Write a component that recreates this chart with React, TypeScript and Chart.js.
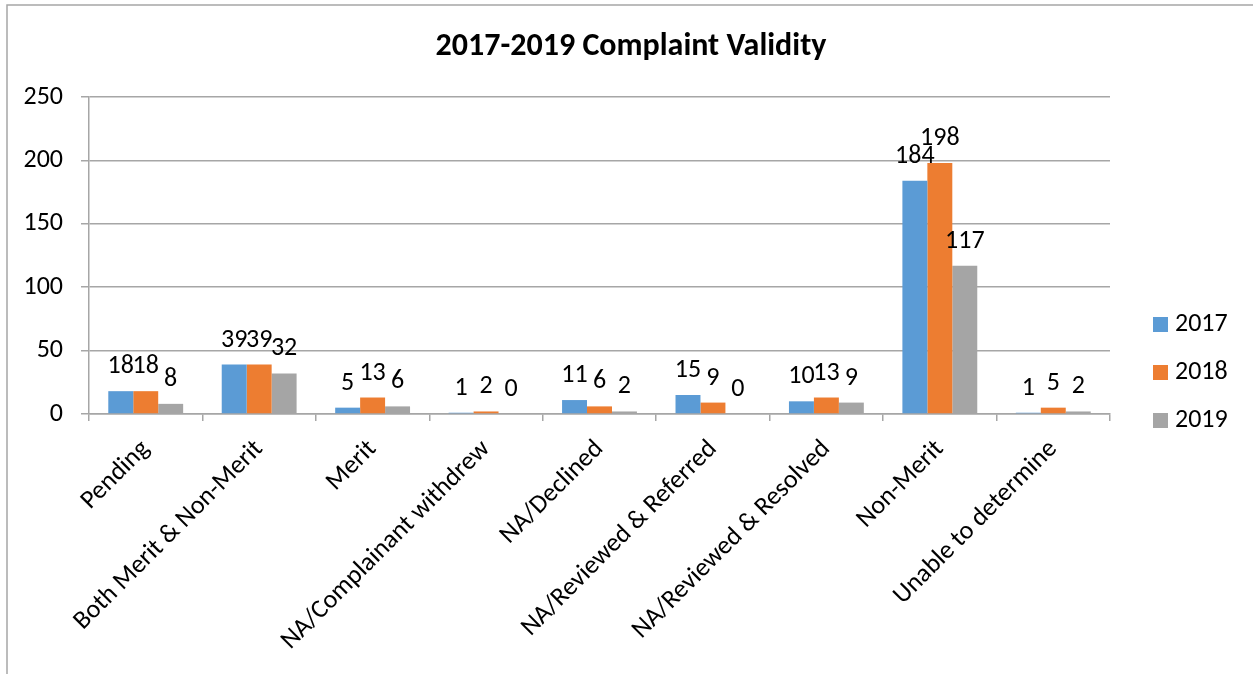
import React, { useEffect, useRef } from "react";
import { Chart, registerables } from "chart.js";

Chart.register(...registerables);

const categories = [
  "Pending",
  "Both Merit & Non-Merit",
  "Merit",
  "NA/Complainant withdrew",
  "NA/Declined",
  "NA/Reviewed & Referred",
  "NA/Reviewed & Resolved",
  "Non-Merit",
  "Unable to determine",
];
const seriesNames = ["2017", "2018", "2019"];
const values2017 = [18, 39, 5, 1, 11, 15, 10, 184, 1];
const values2018 = [18, 39, 13, 2, 6, 9, 13, 198, 5];
const values2019 = [8, 32, 6, 0, 2, 0, 9, 117, 2];
const seriesColors = ["#5B9BD5", "#ED7D31", "#A5A5A5"];
const titleText = "2017-2019 Complaint Validity";

const FONT = "Carlito, Lato, sans-serif";
const GRID = "#a6a6a6";
const FS = 26;

const W = 1253;
const H = 674;

const decorPlugin = {
  id: "decor",
  beforeDraw(chart: any) {
    const ctx = chart.ctx;
    ctx.save();
    ctx.strokeStyle = GRID;
    ctx.lineWidth = 1.5;
    ctx.beginPath();
    ctx.moveTo(7, H);
    ctx.lineTo(7, 5);
    ctx.lineTo(W, 5);
    ctx.stroke();
    ctx.restore();
  },
  afterDatasetsDraw(chart: any) {
    const ctx = chart.ctx;
    ctx.save();
    ctx.font = `${FS}px ${FONT}`;
    ctx.fillStyle = "#000";
    ctx.textAlign = "center";
    ctx.textBaseline = "alphabetic";
    chart.data.datasets.forEach((ds: any, i: number) => {
      const meta = chart.getDatasetMeta(i);
      meta.data.forEach((el: any, j: number) => {
        ctx.fillText(String(ds.data[j]), el.x, el.y - 18);
      });
    });
    // title
    ctx.font = `bold 32px ${FONT}`;
    ctx.textBaseline = "middle";
    ctx.fillText(titleText, 631, 47);
    // legend
    ctx.textAlign = "left";
    ctx.font = `${FS}px ${FONT}`;
    chart.data.datasets.forEach((ds: any, i: number) => {
      const cy = 324.5 + i * 48;
      ctx.fillStyle = ds.backgroundColor;
      ctx.fillRect(1153, cy - 7.5, 15, 15);
      ctx.fillStyle = "#000";
      ctx.fillText(ds.label, 1175, cy);
    });
    ctx.restore();
  },
};

export default function App() {
  const ref = useRef<HTMLCanvasElement>(null);
  useEffect(() => {
    if (!ref.current) return;
    const allSeries = [values2017, values2018, values2019];
    const chart = new Chart(ref.current, {
      type: "bar",
      data: {
        labels: categories,
        datasets: allSeries.map((vals, i) => ({
          label: seriesNames[i],
          data: vals,
          backgroundColor: seriesColors[i],
          borderWidth: 0,
          categoryPercentage: 0.66,
          barPercentage: 1,
        })),
      },
      options: {
        responsive: false,
        animation: false,
        layout: { padding: { left: 0, right: W - 1110, top: 97, bottom: 0 } },
        plugins: {
          legend: { display: false },
          title: { display: false },
          tooltip: { enabled: false },
        },
        scales: {
          x: {
            afterFit: (s: any) => {
              s.height = H - 414;
            },
            grid: {
              display: true,
              drawOnChartArea: false,
              drawTicks: true,
              tickLength: 7,
              color: GRID,
              lineWidth: 1.5,
            },
            border: { display: true, color: GRID, width: 1.5 },
            ticks: {
              color: "#000",
              font: { family: FONT, size: FS },
              maxRotation: 45,
              minRotation: 45,
              autoSkip: false,
              padding: 13,
            },
          },
          y: {
            min: 0,
            max: 250,
            afterFit: (s: any) => {
              s.width = 89;
            },
            grid: {
              color: GRID,
              lineWidth: 1.5,
              drawTicks: true,
              tickLength: 8,
            },
            border: { display: true, color: GRID, width: 1.5 },
            ticks: {
              stepSize: 50,
              color: "#000",
              font: { family: FONT, size: FS },
              padding: 18,
            },
          },
        },
      },
      plugins: [decorPlugin],
    });
    return () => chart.destroy();
  }, []);
  return (
    <div style={{ position: "fixed", left: 0, top: 0, width: W, height: H, background: "#fff" }}>
      <canvas ref={ref} width={W} height={H} style={{ width: W, height: H, display: "block" }} />
    </div>
  );
}
